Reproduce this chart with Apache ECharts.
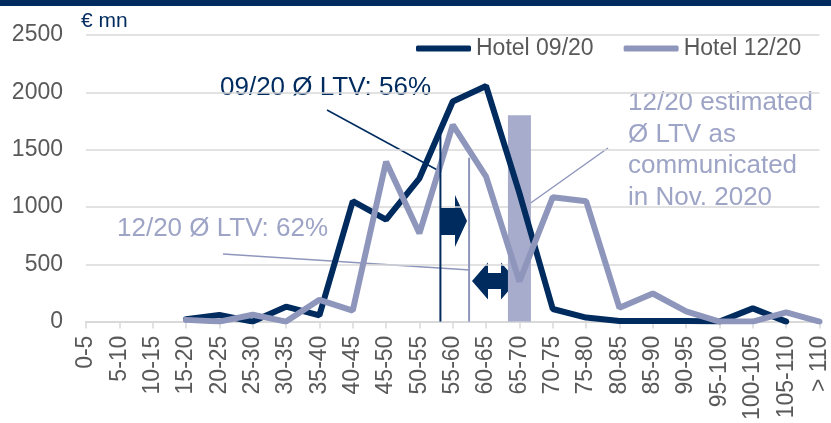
<!DOCTYPE html>
<html>
<head>
<meta charset="utf-8">
<script src="https://cdn.jsdelivr.net/npm/echarts@6/dist/echarts.min.js"></script>
<style>
  html, body { margin: 0; padding: 0; background: #fff; }
  #chart { width: 831px; height: 423px; }
</style>
</head>
<body>
<div id="chart"></div>
<script>
var categories = ['0-5','5-10','10-15','15-20','20-25','25-30','30-35','35-40','40-45','45-50',
                  '50-55','55-60','60-65','65-70','70-75','75-80','80-85','85-90','90-95','95-100',
                  '100-105','105-110','> 110'];
var hotel0920 = [null,null,null,20,58,0,130,55,1050,890,1250,1920,2055,1120,110,35,5,5,5,0,115,0,null];
var hotel1220 = [null,null,null,15,0,60,0,190,95,1395,770,1715,1265,350,1085,1050,120,245,90,0,0,80,0];
var estimated = [null,null,null,null,null,null,null,null,null,null,null,null,null,1800,null,null,null,null,null,null,null,null,null];
// average LTV markers: position on the category scale, height in € mn
var ltvPos = [10.63, 11.49];
var ltvTop = [1630, 1430];

var DARK = '#002b5f';
var LIGHT = '#8f96bc';
var LIGHT_TXT = '#9ea4c6';
var BAR = '#a7abcc';
var GREY = '#595959';
var FONT = "'Liberation Sans', Arial, sans-serif";

var chart = echarts.init(document.getElementById('chart'));
var option = {
    animation: false,
    textStyle: { fontFamily: FONT },
    grid: { left: 86, right: 10, top: 35, bottom: 101 },
    legend: {
        left: 411, top: 32,
        icon: 'roundRect',
        itemWidth: 55, itemHeight: 6, itemGap: 30,
        textStyle: { color: GREY, fontSize: 23, fontFamily: FONT, padding: [2, 0, 0, 0] },
        data: ['Hotel 09/20', 'Hotel 12/20']
    },
    xAxis: [{
        type: 'category',
        data: categories,
        boundaryGap: false,
        axisLine: { lineStyle: { color: '#d9d9d9', width: 2 } },
        axisTick: { show: true, length: 7, lineStyle: { color: '#d9d9d9', width: 1.5 } },
        axisLabel: { rotate: 90, margin: 14, color: GREY, fontSize: 23, fontFamily: FONT, interval: 0 }
    }, {
        type: 'value', min: 0, max: 22, show: false
    }],
    yAxis: {
        type: 'value',
        min: 0, max: 2500, interval: 500,
        name: '€ mn',
        nameGap: 3,
        nameTextStyle: { color: DARK, fontSize: 21, align: 'left', padding: [0, 0, 0, -5], fontFamily: FONT },
        axisLine: { show: false },
        axisTick: { show: false },
        axisLabel: { margin: 23, color: GREY, fontSize: 23, fontFamily: FONT, formatter: function (v) { return String(v); } },
        splitLine: { lineStyle: { color: '#d9d9d9', width: 1.5 } }
    },
    series: [{
        name: 'Hotel 09/20',
        type: 'line',
        data: hotel0920,
        symbol: 'none',
        itemStyle: { color: DARK },
        lineStyle: { color: DARK, width: 6, cap: 'round' }
    }, {
        name: 'Hotel 12/20',
        type: 'line',
        data: hotel1220,
        symbol: 'none',
        itemStyle: { color: LIGHT },
        lineStyle: { color: LIGHT, width: 6, cap: 'round' }
    }, {
        name: 'ltv0920',
        type: 'line',
        xAxisIndex: 1,
        data: [[ltvPos[0], 0], [ltvPos[0], ltvTop[0]]],
        symbol: 'none',
        lineStyle: { color: DARK, width: 2 }
    }, {
        name: 'ltv1220',
        type: 'line',
        xAxisIndex: 1,
        data: [[ltvPos[1], 0], [ltvPos[1], ltvTop[1]]],
        symbol: 'none',
        lineStyle: { color: LIGHT, width: 2 }
    }, {
        name: 'estimated',
        type: 'bar',
        data: estimated,
        barWidth: 23,
        itemStyle: { color: BAR }
    }],
    graphic: [
        { type: 'rect', left: 0, top: 0, shape: { width: 831, height: 6 }, style: { fill: DARK } },
        // annotations
        { type: 'text', x: 220, y: 88, style: { text: '09/20 Ø LTV: 56%', fill: DARK, font: '26px ' + FONT, verticalAlign: 'middle' } },
        { type: 'line', shape: { x1: 327, y1: 110, x2: 441, y2: 172 }, style: { stroke: DARK, lineWidth: 1.5 } },
        { type: 'text', x: 117, y: 229, style: { text: '12/20 Ø LTV: 62%', fill: LIGHT_TXT, font: '26px ' + FONT, verticalAlign: 'middle' } },
        { type: 'line', shape: { x1: 223, y1: 254, x2: 470, y2: 270 }, style: { stroke: LIGHT, lineWidth: 1.5 } },
        { type: 'text', x: 628, y: 87, style: { text: '12/20 estimated\nØ LTV as\ncommunicated\nin Nov. 2020', fill: LIGHT_TXT, font: '26px ' + FONT, lineHeight: 31.7, verticalAlign: 'top' } },
        { type: 'line', shape: { x1: 608, y1: 148, x2: 518, y2: 212 }, style: { stroke: LIGHT, lineWidth: 1.5 } },
        // shift arrows
        { type: 'polygon', shape: { points: [[441,208],[455,208],[455,195],[467,221],[455,247],[455,235],[441,235]] }, style: { fill: DARK } },
        { type: 'polygon', shape: { points: [[472,281],[488,262.5],[488,273],[501,273],[501,262.5],[517,281],[501,299.5],[501,289],[488,289],[488,299.5]] }, style: { fill: DARK } }
    ]
};
chart.setOption(option);
</script>
</body>
</html>
